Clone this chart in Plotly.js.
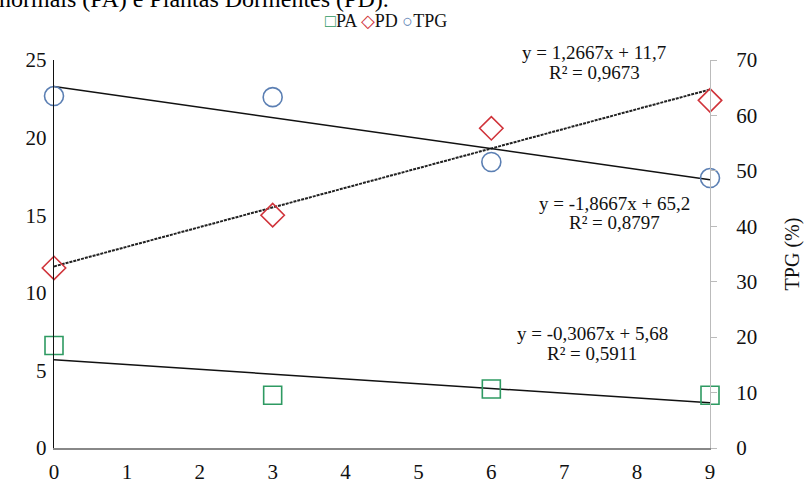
<!DOCTYPE html>
<html>
<head>
<meta charset="utf-8">
<script src="https://cdn.plot.ly/plotly-3.0.1.min.js"></script>
<style>
html,body{margin:0;padding:0;background:#fff;}#chart{width:804px;height:484px;}
#chart text{font-family:'Liberation Serif','Times New Roman',serif !important;}
</style>
</head>
<body>
<div id="chart"></div>
<script>
// Data
const days = [0, 3, 6, 9];
const paValues = [6.6, 3.4, 3.8, 3.4];
const pdValues = [11.6, 15.0, 20.6, 22.4];
const tpgValues = [63.5, 63.3, 51.6, 48.7];
const xTicks = [0, 1, 2, 3, 4, 5, 6, 7, 8, 9];
const trendRange = [0, 9];
// Regression coefficients shown on the chart [slope, intercept]
const paFit = [-0.3067, 5.68];
const pdFit = [1.2667, 11.7];
const tpgFit = [-1.8667, 65.2];
const paEq = ["y = -0,3067x + 5,68", "R² = 0,5911"];
const pdEq = ["y = 1,2667x + 11,7", "R² = 0,9673"];
const tpgEq = ["y = -1,8667x + 65,2", "R² = 0,8797"];

const FONT = "Liberation Serif";
const trendY = f => trendRange.map(x => f[0] * x + f[1]);
const tf = {family: FONT, size: 21, color: '#111'};

const traces = [
  {x: trendRange, y: trendY(paFit), mode: 'lines', line: {color: '#111', width: 1.5}, yaxis: 'y', showlegend: false, hoverinfo: 'skip'},
  {x: trendRange, y: trendY(pdFit), mode: 'lines', line: {color: '#222', width: 2, dash: '3px,1px'}, yaxis: 'y', showlegend: false, hoverinfo: 'skip'},
  {x: trendRange, y: trendY(tpgFit), mode: 'lines', line: {color: '#111', width: 1.5}, yaxis: 'y2', showlegend: false, hoverinfo: 'skip'},
  {x: days, y: paValues, name: 'PA', mode: 'markers', yaxis: 'y', cliponaxis: false,
   marker: {symbol: 'square-open', size: 18, color: '#2e9a62', line: {width: 1.6}}},
  {x: days, y: pdValues, name: 'PD', mode: 'markers', yaxis: 'y', cliponaxis: false,
   marker: {symbol: 'diamond-open', size: 18, color: '#d0333a', line: {width: 1.6}}},
  {x: days, y: tpgValues, name: 'TPG', mode: 'markers', yaxis: 'y2', cliponaxis: false,
   marker: {symbol: 'circle-open', size: 19, color: '#5b7fb3', line: {width: 1.6}}}
];

const eqAnn = (lines, xpx, ypx) => lines.map((t, i) => ({
  text: t, xref: 'paper', yref: 'paper', x: (xpx - 54) / 656, y: (448 - (ypx + i * 20)) / 388,
  xanchor: 'center', yanchor: 'middle', showarrow: false, font: {family: FONT, size: 19, color: '#111'}
}));

const layout = {
  width: 804, height: 484,
  margin: {l: 54, r: 94, t: 60, b: 36},
  paper_bgcolor: '#fff', plot_bgcolor: '#fff',
  showlegend: false,
  font: {family: FONT, size: 21, color: '#111'},
  xaxis: {range: [0, 9], tickvals: xTicks, ticks: '', showgrid: false, zeroline: false, tickfont: tf,
          showline: true, linecolor: '#888', linewidth: 2, ticklabelstandoff: 4},
  yaxis: {range: [0, 25], dtick: 5, ticks: '', showgrid: false, zeroline: false, tickfont: tf,
          showline: true, linecolor: '#111', linewidth: 1.2, ticklabelstandoff: 2},
  yaxis2: {range: [0, 70], dtick: 10, overlaying: 'y', side: 'right', showgrid: false, zeroline: false, tickfont: tf,
           showline: true, linecolor: '#bbb', linewidth: 1, ticks: 'outside', ticklen: 6, tickcolor: '#bbb',
           ticklabelstandoff: 15, automargin: false,
           title: {text: 'TPG (%)', font: {family: FONT, size: 20, color: '#111'}, standoff: 30}},
  annotations: [
    {text: 'normais (PA) e Plantas Dormentes (PD).', xref: 'paper', yref: 'paper',
     x: (-3 - 54) / 656, y: (448 - 14) / 388, xanchor: 'left', yanchor: 'bottom', showarrow: false,
     font: {family: FONT, size: 24, color: '#000'}},
    {text: '<span style="color:#2e9a62">□</span>PA <span style="color:#d0333a">◇</span>PD <span style="color:#5b7fb3">○</span>TPG',
     xref: 'paper', yref: 'paper', x: (386 - 54) / 656, y: (448 - 21) / 388, xanchor: 'center', yanchor: 'middle',
     showarrow: false, font: {family: FONT, size: 18, color: '#111'}},
    ...eqAnn(pdEq, 594, 52),
    ...eqAnn(tpgEq, 614, 203),
    ...eqAnn(paEq, 592, 333)
  ]
};

Plotly.newPlot('chart', traces, layout, {displayModeBar: false, staticPlot: true});
</script>
</body>
</html>
